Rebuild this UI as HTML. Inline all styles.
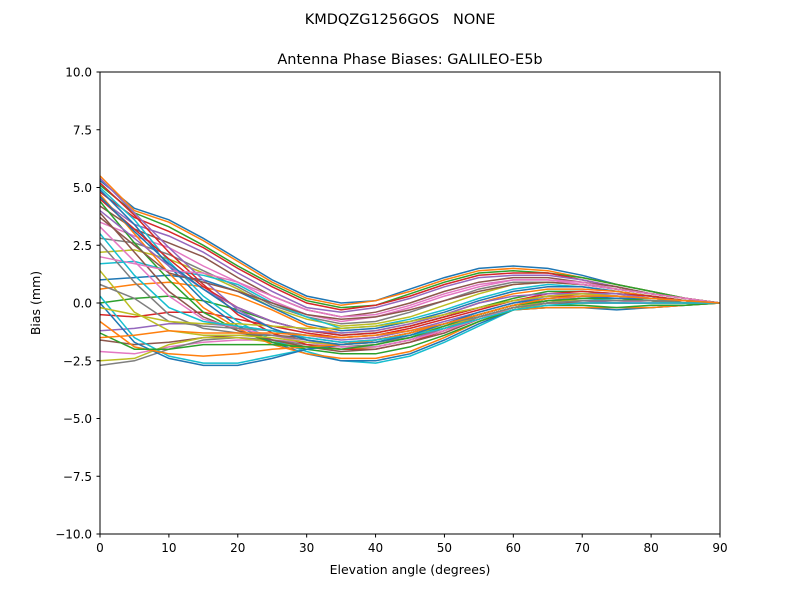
<!DOCTYPE html>
<html><head><meta charset="utf-8"><style>
body{margin:0;background:#fff;}
svg text{font-family:"DejaVu Sans","Liberation Sans",sans-serif;fill:#000;white-space:pre;}
</style></head><body>
<svg id="chart" width="800" height="600" xmlns="http://www.w3.org/2000/svg">
<rect width="800" height="600" fill="#fff"/>
<text x="400" y="24" font-size="14.5" text-anchor="middle" xml:space="preserve">KMDQZG1256GOS   NONE</text>
<text x="410" y="64" font-size="14.5" text-anchor="middle">Antenna Phase Biases: GALILEO-E5b</text>
<g id="lines"></g>
<rect x="100" y="72" width="620" height="462" fill="none" stroke="#000" stroke-width="1"/>
<g id="ticks"></g>
<text x="410" y="574" font-size="12.5" text-anchor="middle">Elevation angle (degrees)</text>
<text x="0" y="0" font-size="12.5" text-anchor="middle" transform="translate(40,303) rotate(-90)">Bias (mm)</text>
</svg>
<script>
const elevations=[0,5,10,15,20,25,30,35,40,45,50,55,60,65,70,75,80,85,90];
const xTicks=[0,10,20,30,40,50,60,70,80,90];
const yTicks=[-10,-7.5,-5,-2.5,0,2.5,5,7.5,10];
const s1=[5.3,4.1,3.6,2.8,1.9,1.0,0.3,0.0,0.1,0.6,1.1,1.5,1.6,1.5,1.2,0.8,0.5,0.2,0];
const s2=[5.5,4.0,3.5,2.7,1.8,0.9,0.2,-0.1,0.1,0.5,1.0,1.4,1.5,1.4,1.1,0.8,0.5,0.2,0];
const s3=[5.1,3.9,3.3,2.5,1.6,0.8,0.1,-0.2,-0.1,0.4,0.9,1.3,1.4,1.3,1.1,0.8,0.5,0.2,0];
const s4=[4.8,3.7,3.1,2.4,1.5,0.7,0.0,-0.3,-0.1,0.3,0.8,1.2,1.3,1.3,1.0,0.7,0.4,0.2,0];
const s5=[4.5,3.4,2.9,2.2,1.3,0.5,-0.2,-0.4,-0.2,0.2,0.7,1.1,1.2,1.2,1.0,0.7,0.4,0.2,0];
const s6=[4.2,3.2,2.6,2.0,1.1,0.3,-0.3,-0.6,-0.4,0.0,0.5,0.9,1.1,1.1,0.9,0.7,0.4,0.2,0];
const s7=[3.5,2.9,2.4,1.6,0.9,0.1,-0.5,-0.8,-0.6,-0.2,0.3,0.7,1.0,1.0,0.9,0.6,0.4,0.2,0];
const s8=[2.8,2.6,2.1,1.4,0.7,-0.1,-0.6,-0.9,-0.8,-0.4,0.1,0.6,0.9,0.9,0.8,0.6,0.4,0.2,0];
const s9=[2.2,2.3,1.9,1.3,0.6,-0.2,-0.7,-1.0,-0.9,-0.6,-0.1,0.4,0.8,0.9,0.8,0.6,0.4,0.2,0];
const s10=[1.7,1.8,1.4,1.2,0.8,0.0,-0.6,-1.1,-1.0,-0.7,-0.3,0.2,0.6,0.8,0.7,0.5,0.3,0.1,0];
const s11=[1.0,1.1,1.2,1.0,0.5,-0.2,-0.9,-1.2,-1.1,-0.8,-0.4,0.1,0.5,0.7,0.7,0.5,0.3,0.1,0];
const s12=[0.6,0.8,0.9,0.7,0.3,-0.3,-1.0,-1.3,-1.2,-0.9,-0.5,0.0,0.4,0.6,0.6,0.5,0.3,0.1,0];
const s13=[0.0,0.2,0.3,0.1,-0.3,-0.8,-1.2,-1.4,-1.3,-1.0,-0.6,-0.2,0.2,0.5,0.5,0.4,0.3,0.1,0];
const s14=[-0.5,-0.6,-0.4,-0.4,-0.7,-1.0,-1.3,-1.5,-1.4,-1.1,-0.7,-0.3,0.1,0.4,0.5,0.4,0.3,0.1,0];
const s15=[-1.2,-1.1,-0.9,-0.9,-1.0,-1.2,-1.4,-1.6,-1.5,-1.2,-0.8,-0.4,0.0,0.3,0.4,0.4,0.2,0.1,0];
const s16=[-1.6,-1.8,-1.7,-1.5,-1.4,-1.4,-1.5,-1.7,-1.6,-1.3,-0.9,-0.5,-0.1,0.2,0.3,0.3,0.2,0.1,0];
const s17=[-2.1,-2.2,-1.9,-1.7,-1.6,-1.6,-1.7,-1.8,-1.7,-1.4,-1.0,-0.6,-0.2,0.1,0.3,0.3,0.2,0.1,0];
const s18=[-2.7,-2.5,-2.0,-1.6,-1.5,-1.6,-1.8,-1.9,-1.8,-1.5,-1.1,-0.6,-0.2,0.1,0.2,0.2,0.1,0.1,0];
const s19=[-2.5,-2.4,-1.8,-1.5,-1.5,-1.7,-1.9,-2.0,-1.9,-1.6,-1.2,-0.7,-0.3,0.0,0.2,0.2,0.1,0.0,0];
const s20=[5.0,3.6,1.8,0.3,-0.8,-1.6,-2.1,-2.5,-2.6,-2.3,-1.7,-1.0,-0.3,-0.2,-0.2,-0.2,-0.2,-0.1,0];
const s21=[4.9,3.4,1.6,0.1,-1.0,-1.7,-2.2,-2.5,-2.5,-2.2,-1.6,-0.9,-0.3,-0.2,-0.2,-0.3,-0.2,-0.1,0];
const s22=[4.7,3.0,1.3,-0.2,-1.1,-1.8,-2.2,-2.4,-2.4,-2.1,-1.5,-0.8,-0.3,-0.2,-0.2,-0.2,-0.2,-0.1,0];
const s23=[4.4,2.6,1.0,-0.4,-1.2,-1.7,-2.0,-2.2,-2.2,-1.9,-1.4,-0.8,-0.3,-0.1,-0.1,-0.2,-0.1,-0.1,0];
const s24=[5.2,3.8,2.2,0.8,-0.5,-1.3,-1.8,-2.0,-2.0,-1.7,-1.2,-0.6,-0.2,0.0,0.0,0.0,0.0,0.0,0];
const s25=[5.4,3.9,2.4,1.0,-0.3,-1.1,-1.6,-1.9,-1.9,-1.6,-1.1,-0.6,-0.2,0.0,0.1,0.0,0.0,0.0,0];
const s26=[3.9,2.2,0.5,-0.6,-1.2,-1.6,-1.9,-2.1,-2.0,-1.7,-1.3,-0.7,-0.2,0.0,0.0,0.0,0.0,0.0,0];
const s27=[3.3,1.8,0.3,-0.7,-1.1,-1.4,-1.7,-1.9,-1.9,-1.6,-1.2,-0.7,-0.2,0.0,0.1,0.1,0.0,0.0,0];
const s28=[2.6,0.9,-0.5,-1.1,-1.3,-1.4,-1.6,-1.8,-1.7,-1.5,-1.1,-0.6,-0.2,0.0,0.1,0.1,0.1,0.0,0];
const s29=[1.4,-0.4,-1.2,-1.4,-1.4,-1.5,-1.7,-1.8,-1.7,-1.4,-1.0,-0.6,-0.2,0.1,0.1,0.1,0.1,0.0,0];
const s30=[0.3,-1.5,-2.3,-2.6,-2.6,-2.3,-2.0,-1.8,-1.6,-1.3,-0.9,-0.5,-0.1,0.1,0.2,0.1,0.1,0.0,0];
const s31=[0.0,-1.7,-2.4,-2.7,-2.7,-2.4,-2.0,-1.8,-1.6,-1.3,-0.9,-0.5,-0.1,0.1,0.2,0.2,0.1,0.0,0];
const s32=[-0.8,-1.9,-2.2,-2.3,-2.2,-2.0,-1.9,-1.8,-1.6,-1.3,-0.9,-0.5,-0.1,0.1,0.2,0.2,0.1,0.0,0];
const s33=[-1.3,-2.0,-2.0,-1.8,-1.8,-1.8,-1.9,-2.0,-1.8,-1.5,-1.0,-0.5,-0.1,0.1,0.2,0.2,0.1,0.0,0];
const s34=[4.5,3.2,1.9,0.7,-0.2,-0.8,-1.2,-1.4,-1.3,-1.0,-0.6,-0.2,0.1,0.3,0.3,0.3,0.2,0.1,0];
const s35=[4.0,2.8,1.6,0.6,-0.2,-0.8,-1.2,-1.3,-1.2,-0.9,-0.5,0.0,0.3,0.4,0.4,0.3,0.2,0.1,0];
const s36=[3.7,2.5,1.3,0.9,0.5,0.0,-0.5,-0.7,-0.6,-0.3,0.1,0.5,0.8,0.9,0.8,0.6,0.4,0.2,0];
const s37=[2.0,1.7,1.4,1.3,0.9,0.3,-0.3,-0.6,-0.5,-0.1,0.4,0.8,1.0,1.0,0.8,0.6,0.4,0.2,0];
const s38=[0.8,0.2,-0.8,-1.0,-1.1,-1.2,-1.4,-1.5,-1.4,-1.2,-0.9,-0.6,-0.2,0.0,0.1,0.1,0.1,0.0,0];
const s39=[-0.2,-0.5,-0.8,-0.9,-0.9,-1.0,-1.1,-1.1,-1.0,-0.8,-0.5,-0.2,0.1,0.3,0.4,0.3,0.2,0.1,0];
const s40=[3.0,1.2,-0.2,-0.8,-1.0,-1.2,-1.5,-1.7,-1.6,-1.4,-1.1,-0.7,-0.3,-0.1,0.0,0.0,0.0,0.0,0];
const s41=[4.6,3.1,1.7,0.6,-0.4,-1.1,-1.6,-1.8,-1.7,-1.4,-0.9,-0.4,0.0,0.2,0.3,0.2,0.2,0.1,0];
const s42=[-1.5,-1.4,-1.2,-1.3,-1.3,-1.3,-1.4,-1.5,-1.4,-1.2,-0.9,-0.5,-0.1,0.2,0.3,0.3,0.2,0.1,0];
const seriesList=[s1,s2,s3,s4,s5,s6,s7,s8,s9,s10,s11,s12,s13,s14,s15,s16,s17,s18,s19,s20,s21,s22,s23,s24,s25,s26,s27,s28,s29,s30,s31,s32,s33,s34,s35,s36,s37,s38,s39,s40,s41,s42];
const colors=["#1f77b4","#ff7f0e","#2ca02c","#d62728","#9467bd","#8c564b","#e377c2","#7f7f7f","#bcbd22","#17becf"];
const NS="http://www.w3.org/2000/svg";
function xScale(d){return 100+(d-0)/90*620;}
function yScale(v){return 303-v/10*231;}
const lg=document.getElementById('lines');
seriesList.forEach((s,i)=>{
  const p=document.createElementNS(NS,'polyline');
  p.setAttribute('points',s.map((v,j)=>xScale(elevations[j]).toFixed(1)+','+yScale(v).toFixed(1)).join(' '));
  p.setAttribute('fill','none');
  p.setAttribute('stroke',colors[i%10]);
  p.setAttribute('stroke-width','1.5');
  
  
  lg.appendChild(p);
});
const tg=document.getElementById('ticks');
xTicks.forEach(t=>{
  const x=xScale(t);
  const l=document.createElementNS(NS,'line');
  l.setAttribute('x1',x);l.setAttribute('x2',x);l.setAttribute('y1',534);l.setAttribute('y2',537.5);
  l.setAttribute('stroke','#000');
  
  
  tg.appendChild(l);
  const tx=document.createElementNS(NS,'text');
  tx.setAttribute('x',x);tx.setAttribute('y',552);tx.setAttribute('font-size','12');tx.setAttribute('text-anchor','middle');
  tx.textContent=String(t);
  
  
  tg.appendChild(tx);
});
yTicks.forEach(t=>{
  const y=yScale(t);
  const l=document.createElementNS(NS,'line');
  l.setAttribute('x1',96.5);l.setAttribute('x2',100);l.setAttribute('y1',y);l.setAttribute('y2',y);
  l.setAttribute('stroke','#000');
  
  
  tg.appendChild(l);
  const tx=document.createElementNS(NS,'text');
  tx.setAttribute('x',92);tx.setAttribute('y',y+4.5);tx.setAttribute('font-size','12');tx.setAttribute('text-anchor','end');
  tx.textContent=(t<0?'\u2212':'')+Math.abs(t).toFixed(1);
  
  
  tg.appendChild(tx);
});
</script>
</body></html>
